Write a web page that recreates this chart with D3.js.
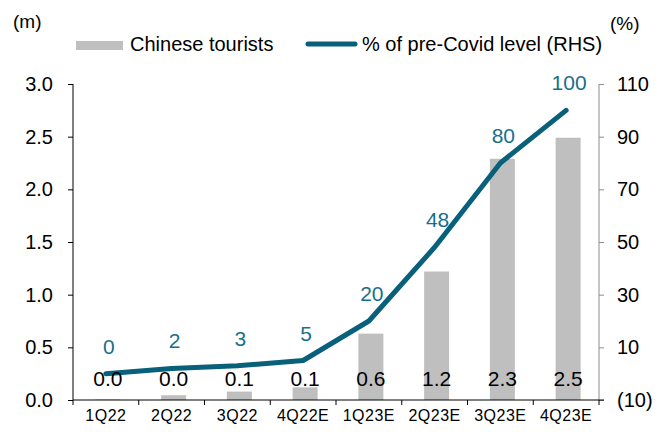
<!DOCTYPE html>
<html>
<head>
<meta charset="utf-8">
<script src="https://cdn.jsdelivr.net/npm/d3@7"></script>
<style>
  body { margin: 0; background: #fff; }
  svg { font-family: "Liberation Sans", Arial, sans-serif; }
</style>
</head>
<body>
<script>
const quarters = ["1Q22", "2Q22", "3Q22", "4Q22E", "1Q23E", "2Q23E", "3Q23E", "4Q23E"];
const tourists = [0.005, 0.045, 0.08, 0.12, 0.63, 1.22, 2.29, 2.49];
const touristLabels = ["0.0", "0.0", "0.1", "0.1", "0.6", "1.2", "2.3", "2.5"];
const pctLevel = [0, 2, 3, 5, 20, 48, 80, 100];
const leftTicks = [0, 0.5, 1, 1.5, 2, 2.5, 3];
const rightTicks = [-10, 10, 30, 50, 70, 90, 110];

const width = 665, height = 432;
const plotL = 73, plotR = 599, plotT = 84, plotB = 400;

const svg = d3.select("body").append("svg")
    .attr("width", width)
    .attr("height", height);

// scales
var x = d3.scaleBand().domain(quarters).range([plotL, plotR]).padding(0);
var yL = d3.scaleLinear().domain([0, 3]).range([plotB, plotT]);
var yR = d3.scaleLinear().domain([-10, 110]).range([plotB, plotT]);

var barW = x.bandwidth() * 0.38;

// bars
svg.selectAll("rect.bar")
    .data(tourists)
    .enter().append("rect")
    .attr("class", "bar")
    .attr("x", function(d, i) { return x(quarters[i]) + x.bandwidth() / 2 - barW / 2 + 2; })
    .attr("y", function(d) { return yL(d); })
    .attr("width", barW)
    .attr("height", function(d) { return yL(0) - yL(d); })
    .attr("fill", "#bfbfbf");

// left axis
var gL = svg.append("g")
    .attr("transform", "translate(" + plotL + ",0)")
    .call(d3.axisLeft(yL).tickValues(leftTicks).tickFormat(d3.format(".1f")).tickSize(5).tickPadding(15));
gL.select(".domain").attr("stroke", "#000").attr("d", "M0," + plotT + "V" + plotB);
gL.selectAll("text").attr("font-size", 20).attr("fill", "#000");

// right axis
var gR = svg.append("g")
    .attr("transform", "translate(" + plotR + ",0)")
    .call(d3.axisRight(yR).tickValues(rightTicks)
      .tickFormat(function(d) { return d < 0 ? "(" + Math.abs(d) + ")" : d; })
      .tickSize(5).tickPadding(13));
gR.select(".domain").attr("stroke", "#8c8c8c").attr("d", "M0," + plotT + "V" + plotB);
gR.selectAll(".tick line").attr("stroke", "#8c8c8c");
gR.selectAll("text").attr("font-size", 20).attr("fill", "#000");

// x axis
var gX = svg.append("g")
    .attr("transform", "translate(0," + plotB + ")")
    .call(d3.axisBottom(x).tickSize(0).tickPadding(10));
gX.select(".domain").attr("stroke", "#000").attr("d", "M" + plotL + ",0H" + (plotR + 5));
gX.selectAll("text").attr("font-size", 16).attr("letter-spacing", "0.5px").attr("fill", "#000");
gX.selectAll("line.sep")
    .data(quarters.concat(["end"]))
    .enter().append("line")
    .attr("class", "sep")
    .attr("x1", function(d, i) { return i < quarters.length ? x(d) : plotR; })
    .attr("x2", function(d, i) { return i < quarters.length ? x(d) : plotR; })
    .attr("y1", 0).attr("y2", 5)
    .attr("stroke", "#000");

// line
var line = d3.line()
    .x(function(d, i) { return x(quarters[i]) + x.bandwidth() / 2; })
    .y(function(d) { return yR(d); });

svg.append("path")
    .datum(pctLevel)
    .attr("d", line)
    .attr("fill", "none")
    .attr("stroke", "#08607a")
    .attr("stroke-width", 5)
    .attr("stroke-linecap", "round")
    .attr("stroke-linejoin", "round");

// bar labels
svg.selectAll("text.barlab")
    .data(touristLabels)
    .enter().append("text")
    .attr("class", "barlab")
    .attr("x", function(d, i) { return x(quarters[i]) + x.bandwidth() / 2 + 2; })
    .attr("y", yL(0) - 14)
    .attr("text-anchor", "middle")
    .attr("font-size", 21)
    .attr("fill", "#000")
    .text(function(d) { return d; });

// line labels
svg.selectAll("text.linelab")
    .data(pctLevel)
    .enter().append("text")
    .attr("class", "linelab")
    .attr("x", function(d, i) { return x(quarters[i]) + x.bandwidth() / 2 + 3; })
    .attr("y", function(d) { return yR(d) - 20; })
    .attr("text-anchor", "middle")
    .attr("font-size", 21)
    .attr("fill", "#17708a")
    .text(function(d) { return d; });

// unit labels
svg.append("text").attr("x", 13).attr("y", 28).attr("font-size", 19).text("(m)");
svg.append("text").attr("x", 610).attr("y", 30).attr("font-size", 19).text("(%)");

// legend
svg.append("rect").attr("x", 76).attr("y", 41).attr("width", 47).attr("height", 9).attr("fill", "#bfbfbf");
svg.append("text").attr("x", 130).attr("y", 51).attr("font-size", 20).text("Chinese tourists");
svg.append("line").attr("x1", 308).attr("x2", 355).attr("y1", 44).attr("y2", 44)
    .attr("stroke", "#08607a").attr("stroke-width", 5).attr("stroke-linecap", "round");
svg.append("text").attr("x", 362).attr("y", 51).attr("font-size", 20).text("% of pre-Covid level (RHS)");
</script>
</body>
</html>
